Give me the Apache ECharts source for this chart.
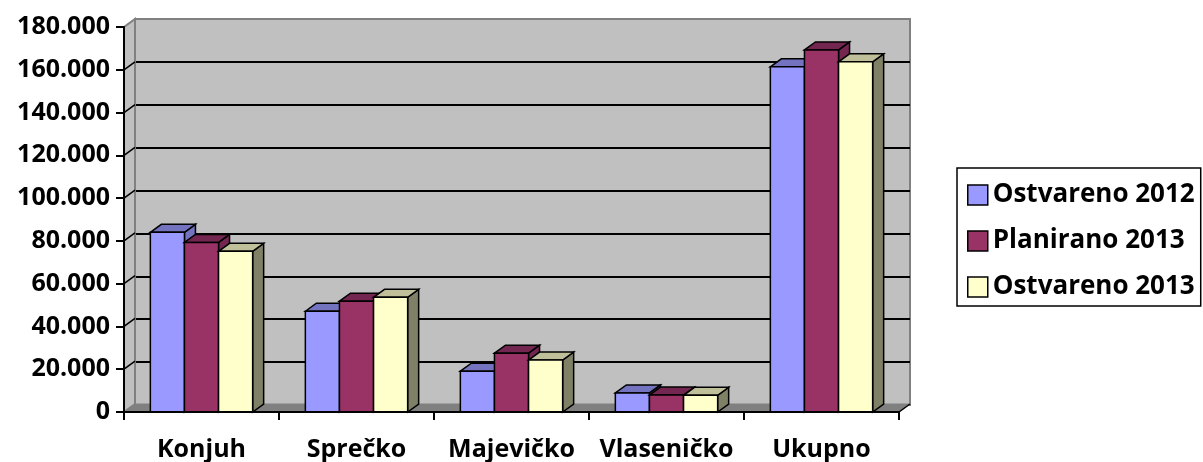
<!DOCTYPE html>
<html>
<head>
<meta charset="utf-8">
<script src="https://cdn.jsdelivr.net/npm/echarts@6/dist/echarts.min.js"></script>
<style>
  html, body { margin: 0; padding: 0; background: #fff; }
  #main { width: 1203px; height: 462px; }
</style>
</head>
<body>
<div id="main"></div>
<script>
var categories = ['Konjuh', 'Sprečko', 'Majevičko', 'Vlaseničko', 'Ukupno'];
var seriesNames = ['Ostvareno 2012', 'Planirano 2013', 'Ostvareno 2013'];
var ostvareno2012 = [84000, 47100, 19100, 8900, 161400];
var planirano2013 = [79300, 51800, 27500, 7900, 169300];
var ostvareno2013 = [75100, 53600, 24300, 7800, 163700];
var yTicks = [0, 20000, 40000, 60000, 80000, 100000, 120000, 140000, 160000, 180000];

var DX = 11, DY = 8; // 3d depth offset
var font = 'Open Sans';
var myChart = echarts.init(document.getElementById('main'));

function fmt(v) {
    return String(v).replace(/\B(?=(\d{3})+(?!\d))/g, '.');
}

// one 3d bar: front, top and side faces
function makeBars(name, values, slot, color, topColor, sideColor) {
    return {
        name: name,
        type: 'custom',
        xAxisIndex: 0,
        yAxisIndex: 0,
        z: 3,
        itemStyle: { color: color },
        data: values.map(function (v, i) { return [i, v]; }),
        renderItem: function (params, api) {
            var top = api.coord([api.value(0), api.value(1)]);
            var base = api.coord([api.value(0), 0]);
            var band = api.size([1, 0])[0];
            var w = band * 0.22;
            var x0 = top[0] - 1.5 * w + slot * w;
            var ty = top[1], by = base[1];
            var st = { stroke: '#000', lineWidth: 1.5 };
            return {
                type: 'group',
                children: [
                    {
                        type: 'polygon',
                        shape: { points: [[x0 + w, ty], [x0 + w + DX, ty - DY], [x0 + w + DX, by - DY], [x0 + w, by]] },
                        style: Object.assign({ fill: sideColor }, st)
                    },
                    {
                        type: 'polygon',
                        shape: { points: [[x0, ty], [x0 + DX, ty - DY], [x0 + w + DX, ty - DY], [x0 + w, ty]] },
                        style: Object.assign({ fill: topColor }, st)
                    },
                    {
                        type: 'rect',
                        shape: { x: x0, y: ty, width: w, height: by - ty },
                        style: Object.assign({ fill: color }, st)
                    }
                ]
            };
        }
    };
}

// side wall, floor and the diagonal grid bits
var decor = {
    type: 'custom',
    xAxisIndex: 0,
    yAxisIndex: 0,
    z: 1,
    silent: true,
    legendHoverLink: false,
    data: [[0, 0]],
    renderItem: function (params, api) {
        var cs = params.coordSys;
        var L = cs.x, R = cs.x + cs.width, B = cs.y + cs.height, T = cs.y;
        var kids = [
            {
                type: 'polygon',
                shape: { points: [[L, B], [L, T], [L + DX, T - DY], [L + DX, B - DY]] },
                style: { fill: '#C0C0C0', stroke: '#808080', lineWidth: 2 }
            },
            {
                type: 'polygon',
                shape: { points: [[L, B], [L + DX, B - DY], [R + DX, B - DY], [R, B]] },
                style: { fill: '#808080', stroke: '#808080', lineWidth: 1 }
            },
            {
                type: 'line',
                shape: { x1: R, y1: B, x2: R + DX, y2: B - DY },
                style: { stroke: '#000', lineWidth: 1.5 }
            }
        ];
        yTicks.forEach(function (v, i) {
            if (i === 0 || i === yTicks.length - 1) return;
            var y = api.coord([0, v])[1];
            kids.push({
                type: 'line',
                shape: { x1: L, y1: y, x2: L + DX, y2: y - DY },
                style: { stroke: '#000', lineWidth: 1.5 }
            });
        });
        return { type: 'group', children: kids };
    }
};

var option = {
    backgroundColor: '#fff',
    animation: false,
    textStyle: { fontFamily: font },
    legend: {
        orient: 'vertical',
        left: 957,
        top: 168,
        padding: [14, 6, 6, 10],
        itemWidth: 20,
        itemHeight: 20,
        itemGap: 20,
        borderColor: '#000',
        borderWidth: 1.5,
        icon: 'rect',
        itemStyle: { borderColor: '#000', borderWidth: 1.5 },
        textStyle: { fontSize: 26, fontWeight: 'bold', color: '#000', fontFamily: font, lineHeight: 26 },
        data: seriesNames
    },
    grid: [
        { left: 124, top: 27, width: 775, height: 386 },
        {
            left: 124 + DX, top: 27 - DY, width: 775, height: 386,
            show: true, backgroundColor: '#C0C0C0', borderColor: '#808080', borderWidth: 2
        }
    ],
    xAxis: [
        {
            type: 'category',
            gridIndex: 0,
            data: categories,
            axisLine: { lineStyle: { color: '#000', width: 2 } },
            axisTick: { show: true, length: 8, lineStyle: { color: '#000', width: 2 } },
            axisLabel: { color: '#000', fontSize: 25, fontWeight: 'bold', fontFamily: font, margin: 25, interval: 0 },
            z: 4
        },
        {
            type: 'category',
            gridIndex: 1,
            data: categories,
            show: false
        }
    ],
    yAxis: [
        {
            type: 'value',
            gridIndex: 0,
            min: 0,
            max: 180000,
            interval: 20000,
            splitLine: { show: false },
            axisLine: { show: true, lineStyle: { color: '#000', width: 2 } },
            axisTick: { show: true, length: 8, lineStyle: { color: '#000', width: 2 } },
            axisLabel: { color: '#000', fontSize: 25, fontWeight: 'bold', fontFamily: font, margin: 14, formatter: fmt },
            z: 4
        },
        {
            type: 'value',
            gridIndex: 1,
            min: 0,
            max: 180000,
            interval: 20000,
            axisLine: { show: false },
            axisTick: { show: false },
            axisLabel: { show: false },
            splitLine: { show: true, showMinLine: false, showMaxLine: false, lineStyle: { color: '#000', width: 2 } }
        }
    ],
    series: [
        decor,
        makeBars(seriesNames[0], ostvareno2012, 0, '#9999FF', '#7373BF', '#7373BF'),
        makeBars(seriesNames[1], planirano2013, 1, '#993366', '#732650', '#732650'),
        makeBars(seriesNames[2], ostvareno2013, 2, '#FFFFCC', '#BFBF99', '#808066')
    ]
};
myChart.setOption(option);
</script>
</body>
</html>
